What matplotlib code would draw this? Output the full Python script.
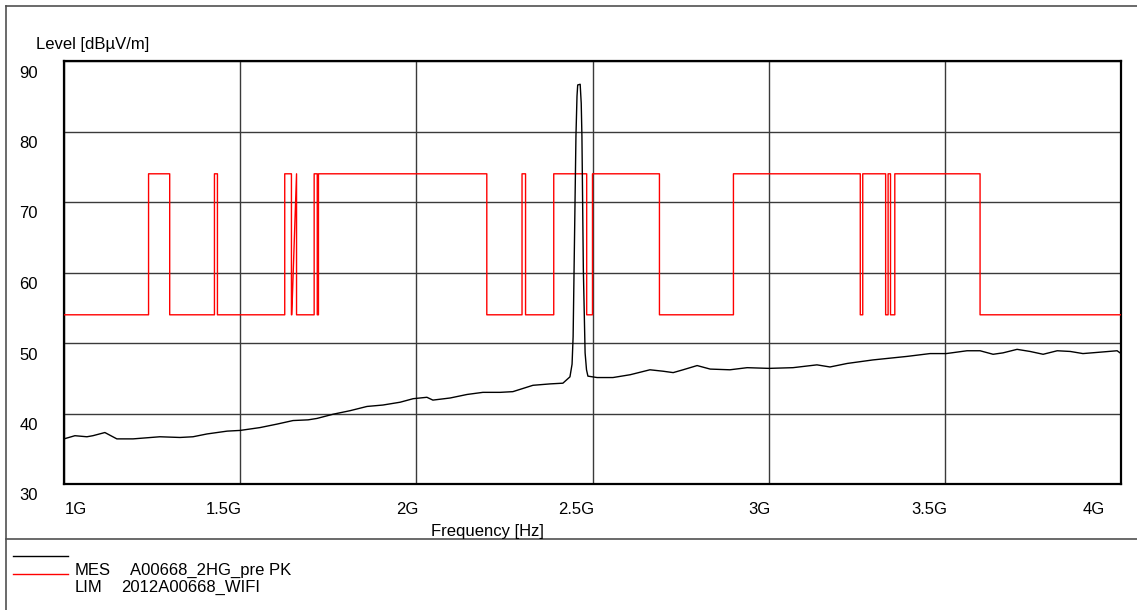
import matplotlib
matplotlib.use('Agg')
import matplotlib.pyplot as plt
from matplotlib.lines import Line2D
from matplotlib.transforms import offset_copy

plt.rcParams['font.family'] = ['Liberation Sans', 'DejaVu Sans']

# Messkurve (GHz, dBuV/m)
mes_f = [1.000, 1.031, 1.065, 1.082, 1.116, 1.150, 1.196, 1.272, 1.329, 1.366,
         1.406, 1.463, 1.500, 1.556, 1.605, 1.650, 1.693, 1.718, 1.764, 1.812,
         1.860, 1.905, 1.954, 1.991, 2.030, 2.047, 2.096, 2.144, 2.189, 2.238,
         2.274, 2.331, 2.380, 2.416, 2.436, 2.442, 2.445, 2.449, 2.453, 2.456,
         2.458, 2.465, 2.468, 2.470, 2.474, 2.479, 2.483, 2.487, 2.513, 2.558,
         2.607, 2.663, 2.700, 2.729, 2.757, 2.797, 2.834, 2.890, 2.939, 3.001,
         3.069, 3.137, 3.174, 3.223, 3.296, 3.393, 3.458, 3.504, 3.563, 3.600,
         3.637, 3.665, 3.705, 3.742, 3.779, 3.819, 3.856, 3.892, 3.941, 3.989,
         4.000]
mes_v = [36.4, 36.85, 36.7, 36.85, 37.3, 36.4, 36.4, 36.7, 36.6, 36.7,
         37.1, 37.5, 37.6, 38.0, 38.5, 39.0, 39.1, 39.3, 39.9, 40.4,
         41.0, 41.2, 41.6, 42.1, 42.3, 41.9, 42.2, 42.7, 43.0, 43.0,
         43.1, 44.0, 44.2, 44.3, 45.2, 47.0, 50.9, 65.0, 79.3, 85.0,
         86.6, 86.7, 84.0, 79.3, 60.4, 48.6, 46.2, 45.3, 45.1, 45.1,
         45.5, 46.2, 46.0, 45.8, 46.2, 46.8, 46.3, 46.2, 46.5, 46.4,
         46.5, 46.9, 46.6, 47.1, 47.6, 48.1, 48.5, 48.5, 48.9, 48.9,
         48.4, 48.6, 49.1, 48.8, 48.4, 48.9, 48.8, 48.5, 48.7, 48.9,
         48.5]

# Grenzwertlinie
lim_f = [1.0, 1.24, 1.24, 1.30, 1.30, 1.427, 1.427, 1.4355, 1.4355, 1.6265,
         1.6265, 1.6455, 1.6455, 1.6465, 1.66, 1.66, 1.71, 1.71, 1.7188, 1.7188,
         1.7222, 1.7222, 2.2, 2.2, 2.3, 2.3, 2.31, 2.31, 2.39, 2.39,
         2.4835, 2.4835, 2.5, 2.5, 2.69, 2.69, 2.9, 2.9, 3.26, 3.26,
         3.267, 3.267, 3.332, 3.332, 3.339, 3.339, 3.3458, 3.3458, 3.358, 3.358,
         3.6, 3.6, 4.0]
lim_v = [54, 54, 74, 74, 54, 54, 74, 74, 54, 54,
         74, 74, 54, 54, 74, 54, 54, 74, 74, 54,
         54, 74, 74, 54, 54, 74, 74, 54, 54, 74,
         74, 54, 54, 74, 74, 54, 54, 74, 74, 54,
         54, 74, 74, 54, 54, 74, 74, 54, 54, 74,
         74, 54, 54]

x_ticks = [1.0, 1.5, 2.0, 2.5, 3.0, 3.5, 4.0]
x_labels = ['1G', '1.5G', '2G', '2.5G', '3G', '3.5G', '4G']
y_ticks = [30, 40, 50, 60, 70, 80, 90]

fig = plt.figure(figsize=(11.37, 6.10), dpi=100)
ax = fig.add_axes([64 / 1137, 1 - 484 / 610, 1057 / 1137, 423 / 610])

ax.plot(lim_f, lim_v, color='red', lw=1.0, zorder=3)
ax.plot(mes_f, mes_v, color='black', lw=1.0, zorder=4)

ax.set_xlim(1.0, 4.0)
ax.set_ylim(30, 90)
ax.set_xticks(x_ticks)
ax.set_yticks(y_ticks)
ax.set_xticklabels([])
ax.set_yticklabels([])
ax.tick_params(length=0)
ax.grid(True, color='#3a3a3a', lw=1.0)
for s in ax.spines.values():
    s.set_color('black')
    s.set_linewidth(1.6)

# Achsenbeschriftung wie im Original leicht versetzt
for v in y_ticks:
    tr = offset_copy(ax.get_yaxis_transform(), fig=fig, x=-26, y=-12, units='dots')
    ax.text(0, v, str(v), transform=tr, ha='right', va='center', fontsize=12)
for f, lab in zip(x_ticks, x_labels):
    ha = 'right'
    dx = 2
    if f == 1.0:
        ha = 'left'
        dx = 1
    elif f == 4.0:
        dx = -16
    tr = offset_copy(ax.get_xaxis_transform(), fig=fig, x=dx, y=-25, units='dots')
    ax.text(f, 0, lab, transform=tr, ha=ha, va='center', fontsize=12)

fig.text(36 / 1137, 1 - 44 / 610, 'Level [dBµV/m]', ha='left', va='center', fontsize=12)
fig.text(487 / 1137, 1 - 536 / 610, 'Frequency [Hz]', ha='center', va='baseline', fontsize=12)

# Rahmen und Trennlinie
fc = '#505050'
fig.add_artist(Line2D([6 / 1137, 6 / 1137], [0, 1 - 6 / 610], transform=fig.transFigure, color=fc, lw=1.2))
fig.add_artist(Line2D([6 / 1137, 1], [1 - 6 / 610, 1 - 6 / 610], transform=fig.transFigure, color=fc, lw=1.2))
fig.add_artist(Line2D([6 / 1137, 1], [1 - 539 / 610, 1 - 539 / 610], transform=fig.transFigure, color=fc, lw=1.2))

# Legende
fig.add_artist(Line2D([13 / 1137, 68 / 1137], [1 - 556 / 610] * 2, transform=fig.transFigure, color='black', lw=1.0))
fig.add_artist(Line2D([13 / 1137, 68 / 1137], [1 - 574 / 610] * 2, transform=fig.transFigure, color='red', lw=1.0))
fig.text(75 / 1137, 1 - 575 / 610, 'MES', ha='left', va='baseline', fontsize=12)
fig.text(130 / 1137, 1 - 575 / 610, 'A00668_2HG_pre PK', ha='left', va='baseline', fontsize=12)
fig.text(75 / 1137, 1 - 592 / 610, 'LIM', ha='left', va='baseline', fontsize=12)
fig.text(121 / 1137, 1 - 592 / 610, '2012A00668_WIFI', ha='left', va='baseline', fontsize=12)

fig.savefig('out.png', dpi=100)
